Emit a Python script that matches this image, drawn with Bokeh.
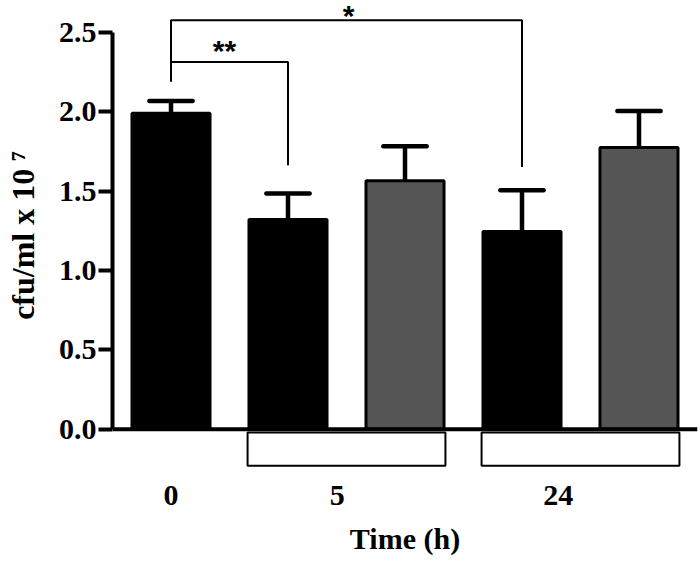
import numpy as np
from bokeh.plotting import figure
from bokeh.models import Range1d, FixedTicker, Span, NumeralTickFormatter
from bokeh.core.properties import value
from bokeh.embed import file_html
from bokeh.resources import INLINE

# ---- data ----
bar_pos = [0, 1, 2, 3, 4]
means = [1.99, 1.32, 1.565, 1.245, 1.775]
err_top = [2.067, 1.484, 1.782, 1.505, 2.004]
bar_colors = ["black", "black", "#555555", "black", "#555555"]

y_ticks = [0.0, 0.5, 1.0, 1.5, 2.0, 2.5]
x_tick_pos = [0, 1.42, 3.31]
x_tick_labels = ["0", "5", "24"]

# significance brackets
br_left = [0, 0]
br_right = [1, 3]
br_level = [2.313, 2.576]
br_left_drop = [2.19, 2.19]
br_right_drop = [1.662, 1.652]
br_text = ["**", "*"]
br_text_x = [0.457, 1.517]
br_text_y = [2.383, 2.605]

# group boxes under the axis
box_first = [1, 3]
box_last = [2, 4]
box_top = -0.02
box_bottom = -0.23

y_title = "cfu/ml x 10 \u2077"
x_title = "Time (h)"

BW = 0.667
FONT = "Liberation Serif"

p = figure(width=700, height=561,
           x_range=Range1d(-0.5, 4.5), y_range=Range1d(-0.26, 2.70),
           min_border_left=112, min_border_right=3, min_border_top=0,
           min_border_bottom=91,
           output_backend="svg", toolbar_location=None)
p.outline_line_color = None
p.xgrid.visible = False
p.ygrid.visible = False
p.background_fill_color = "white"

# y axis
ya = p.yaxis[0]
ya.ticker = FixedTicker(ticks=y_ticks)
ya.formatter = NumeralTickFormatter(format="0.0")
ya.bounds = (0, 2.5)
ya.axis_line_width = 4
ya.major_tick_line_width = 4
ya.major_tick_out = 14
ya.major_tick_in = 0
ya.minor_tick_line_color = None
ya.major_label_standoff = 2
ya.major_label_text_font = FONT
ya.major_label_text_font_style = "bold"
ya.major_label_text_font_size = "30px"
ya.major_label_text_color = "black"
ya.axis_label = y_title
ya.axis_label_text_font = FONT
ya.axis_label_text_font_style = "bold"
ya.axis_label_text_font_size = "32px"
ya.axis_label_text_color = "black"
ya.axis_label_standoff = 15

# x axis
xa = p.xaxis[0]
xa.ticker = FixedTicker(ticks=x_tick_pos)
xa.major_label_overrides = {pos: lab for pos, lab in zip(x_tick_pos, x_tick_labels)}
xa.axis_line_color = None
xa.major_tick_line_color = None
xa.minor_tick_line_color = None
xa.major_label_standoff = 9
xa.major_label_text_font = FONT
xa.major_label_text_font_style = "bold"
xa.major_label_text_font_size = "30px"
xa.major_label_text_color = "black"
xa.axis_label = x_title
xa.axis_label_text_font = FONT
xa.axis_label_text_font_style = "bold"
xa.axis_label_text_font_size = "30px"
xa.axis_label_text_color = "black"
xa.axis_label_standoff = 14

# bars
p.vbar(x=bar_pos, width=BW, top=means, bottom=0,
       fill_color=bar_colors, line_color="black", line_width=3)

# error bars (upper only)
bp = np.array(bar_pos, dtype=float)
p.segment(x0=bp, y0=means, x1=bp, y1=err_top, line_color="black",
          line_width=4.5)
p.segment(x0=bp - 0.185, y0=err_top, x1=bp + 0.185, y1=err_top,
          line_color="black", line_width=4.5, line_cap="round")

# zero line (x axis)
p.add_layout(Span(location=0, dimension="width", line_color="black",
                  line_width=4))

# boxes
bf = np.array(box_first, dtype=float)
bl = np.array(box_last, dtype=float)
p.quad(left=bf - BW / 2 - 0.012, right=bl + BW / 2 + 0.012,
       top=box_top, bottom=box_bottom,
       fill_color="white", line_color="black", line_width=2)

# brackets
xs = [[l, l, r, r] for l, r in zip(br_left, br_right)]
ys = [[ld, lv, lv, rd] for ld, lv, rd in zip(br_left_drop, br_level, br_right_drop)]
p.multi_line(xs=xs, ys=ys, line_color="black", line_width=2)
p.text(x=br_text_x, y=br_text_y, text=br_text,
       text_font=value("Liberation Sans"), text_font_style="bold",
       text_font_size="30px", text_align="center",
       text_baseline="alphabetic", text_color="black")

open("out.html", "w").write(file_html(p, INLINE))
